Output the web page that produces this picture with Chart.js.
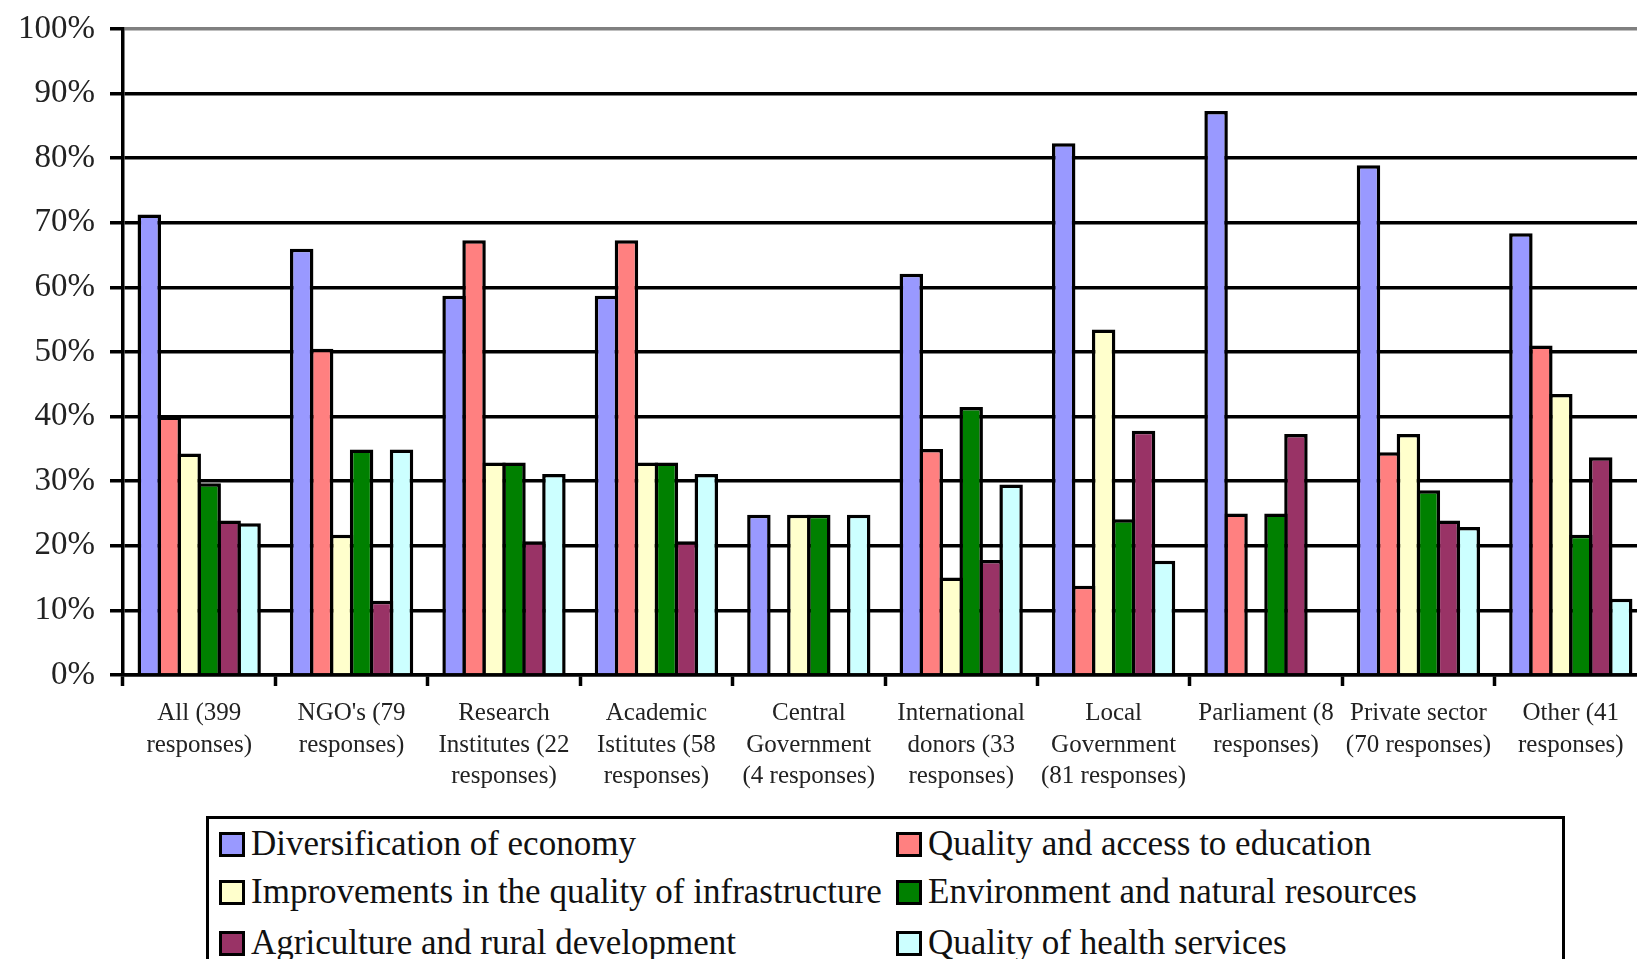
<!DOCTYPE html>
<html>
<head>
<meta charset="utf-8">
<title>Development priorities by respondent group</title>
<script src="https://cdn.jsdelivr.net/npm/chart.js@4.4.1/dist/chart.umd.min.js"></script>
<style>
  html, body { margin: 0; padding: 0; background: #fff; overflow: hidden; width: 1637px; height: 959px; }
  #wrap { position: absolute; left: 0; top: 0; }
  #chart { display: block; }
  #legend {
    position: absolute; left: 206px; top: 816px; width: 1359px; height: 170px;
    border: 3.5px solid #000; box-sizing: border-box; background: #fff;
    font-family: "Liberation Serif", "Times New Roman", serif; font-size: 35px; color: #111;
  }
  .item { position: absolute; display: flex; align-items: center; white-space: nowrap; height: 26px; }
  .swatch { width: 26px; height: 25px; box-sizing: border-box; border: 3.5px solid #000; margin-right: 6px; flex: none; }
</style>
</head>
<body>
<div id="wrap">
  <canvas id="chart" width="1660" height="810"></canvas>
</div>
<div id="legend"></div>
<script>
// Respondent groups (x-axis categories, wrapped onto lines)
const groups = [
  ["All (399", "responses)"],
  ["NGO's (79", "responses)"],
  ["Research", "Institutes (22", "responses)"],
  ["Academic", "Istitutes (58", "responses)"],
  ["Central", "Government", "(4 responses)"],
  ["International", "donors (33", "responses)"],
  ["Local", "Government", "(81 responses)"],
  ["Parliament (8", "responses)"],
  ["Private sector", "(70 responses)"],
  ["Other (41", "responses)"]
];

// Share of respondents naming each priority, in percent
const diversification = [71.3, 66.0, 58.7, 58.7, 24.8, 62.1, 82.3, 87.3, 78.9, 68.4];
const education       = [40.0, 50.5, 67.3, 67.3, null, 35.0, 13.8, 25.0, 34.5, 51.0];
const infrastructure  = [34.3, 21.7, 32.9, 32.9, 24.8, 15.1, 53.5, null, 37.3, 43.5];
const environment     = [29.7, 34.9, 32.9, 32.9, 24.8, 41.5, 24.1, 25.0, 28.6, 21.7];
const agriculture     = [23.9, 11.5, 20.7, 20.7, null, 17.8, 37.8, 37.3, 23.9, 33.7];
const health          = [23.5, 34.9, 31.1, 31.1, 24.8, 29.5, 17.7, null, 22.9, 11.8];

// Y-axis tick values
const yTicks = [0, 10, 20, 30, 40, 50, 60, 70, 80, 90, 100];

const seriesNames = [
  "Diversification of economy",
  "Quality and access to education",
  "Improvements in the quality of infrastructure",
  "Environment and natural resources",
  "Agriculture and rural development",
  "Quality of health services"
];
const seriesColors = ["#9999FF", "#FF8080", "#FFFFCC", "#008000", "#993366", "#CCFFFF"];
const seriesValues = [diversification, education, infrastructure, environment, agriculture, health];

const LINE = 3.5;

const datasets = seriesValues.map((vals, i) => ({
  label: seriesNames[i],
  data: vals,
  backgroundColor: seriesColors[i],
  borderColor: "#000",
  borderWidth: LINE,
  borderSkipped: "start",
  categoryPercentage: 0.786,
  barPercentage: 1.176
}));

new Chart(document.getElementById("chart"), {
  type: "bar",
  data: { labels: groups, datasets },
  options: {
    responsive: false,
    animation: false,
    devicePixelRatio: 1,
    layout: { padding: { top: 29, right: 13, bottom: 0, left: 0 } },
    plugins: { legend: { display: false }, tooltip: { enabled: false } },
    scales: {
      x: {
        z: 1,
        grid: {
          offset: true,
          drawOnChartArea: false,
          drawTicks: true,
          tickLength: 11,
          tickWidth: LINE,
          tickColor: "#000"
        },
        border: { display: true, color: "#000", width: LINE },
        ticks: {
          autoSkip: false,
          maxRotation: 0,
          minRotation: 0,
          padding: 12,
          color: "#222",
          font: { family: "'Liberation Serif', 'Times New Roman', serif", size: 25, lineHeight: 1.26 }
        },
        afterFit: (scale) => { scale.height = 810 - 675; }
      },
      y: {
        min: 0,
        max: 100,
        afterBuildTicks: (scale) => { scale.ticks = yTicks.map(v => ({ value: v })); },
        grid: {
          color: (ctx) => (ctx.tick && ctx.tick.value === 100 ? "#808080" : "#000"),
          lineWidth: LINE,
          tickLength: 13,
          tickWidth: LINE,
          tickColor: "#000"
        },
        border: { display: true, color: "#000", width: LINE },
        ticks: {
          padding: 15,
          color: "#222",
          font: { family: "'Liberation Serif', 'Times New Roman', serif", size: 33, lineHeight: 0.8 },
          callback: (v) => v + "%"
        },
        afterFit: (scale) => { scale.width = 123; }
      }
    }
  }
});

// Boxed legend below the plot, two columns
const legend = document.getElementById("legend");
const colX = [10, 687];
const rowY = [12, 60, 111];
seriesNames.forEach((name, i) => {
  const item = document.createElement("div");
  item.className = "item";
  item.style.left = colX[i % 2] + "px";
  item.style.top = rowY[Math.floor(i / 2)] + "px";
  const sw = document.createElement("span");
  sw.className = "swatch";
  sw.style.background = seriesColors[i];
  const tx = document.createElement("span");
  tx.textContent = name;
  item.appendChild(sw);
  item.appendChild(tx);
  legend.appendChild(item);
});
</script>
</body>
</html>
